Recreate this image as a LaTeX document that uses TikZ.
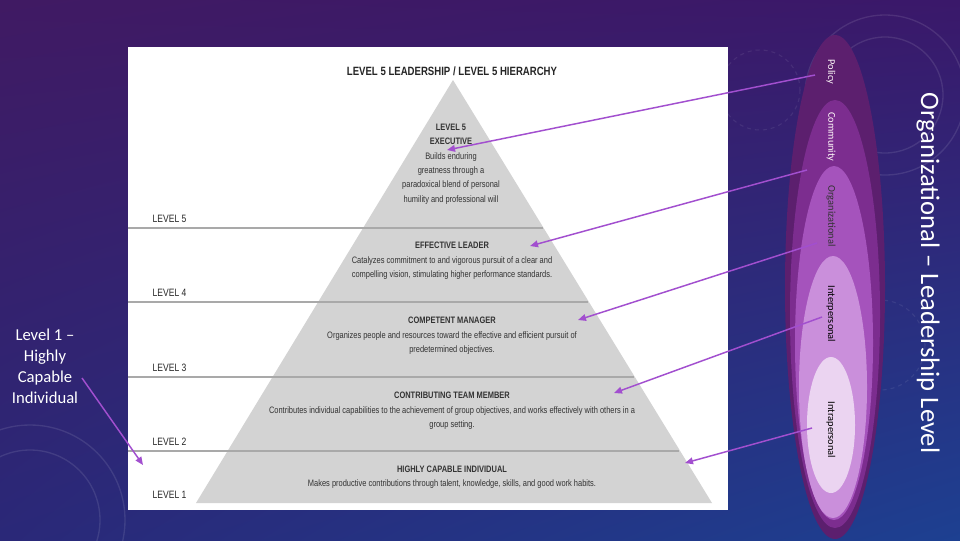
\documentclass[tikz,border=0pt]{standalone}
\usepackage{fontspec}
\setmainfont{Carlito}
\newfontfamily\narrowfont[FakeStretch=0.8]{Liberation Sans}
\newfontfamily\calibri{Carlito}
\usepackage{xcolor}
\usetikzlibrary{positioning,arrows.meta,shapes.geometric,shadings}
\definecolor{bgtl}{HTML}{401A63}
\definecolor{bgtr}{HTML}{3A186A}
\definecolor{bgbl}{HTML}{2A2878}
\definecolor{bgbr}{HTML}{1D4091}
\definecolor{pyrgrey}{HTML}{D3D3D3}
\definecolor{lvlgrey}{HTML}{A9A9A9}
\definecolor{policyc}{HTML}{5C1F6E}
\definecolor{communityc}{HTML}{7C2D8F}
\definecolor{orgc}{HTML}{A553BC}
\definecolor{interc}{HTML}{CA8FDB}
\definecolor{intrac}{HTML}{EBD4F1}
\definecolor{pointerc}{HTML}{A24FCF}

\begin{document}
\begin{tikzpicture}[
    x=0.75pt, y=-0.75pt,
    band/.style={align=center, text=black!80, font=\narrowfont\fontsize{7}{10.8}\selectfont},
    levellabel/.style={anchor=west, text=black!85, font=\narrowfont\fontsize{8}{9}\selectfont},
    levelline/.style={draw=lvlgrey, line width=1.5pt},
    ringlabel/.style={rotate=-90, font=\calibri\fontsize{7.8}{9}\selectfont},
    pointer/.style={-{Triangle[length=6pt,width=5pt]}, draw=pointerc, fill=pointerc, line width=1.1pt}
]
\useasboundingbox (0,0) rectangle (960,540);
\shade[upper left=bgtl, upper right=bgtr, lower left=bgbl, lower right=bgbr] (0,0) rectangle (960,540);
\draw[white, opacity=0.10, line width=1pt] (885,95) circle (58) (885,95) circle (80) (30,520) circle (70) (30,520) circle (95);
\draw[white, opacity=0.08, line width=0.8pt, dashed] (880,345) circle (45) (760,90) circle (40);

% pyramid panel
\fill[white] (128,47) rectangle (728,510);
\fill[pyrgrey] (453,80) -- (712,503) -- (196,503) -- cycle;
\foreach \y/\xr/\lab in {228/543/5, 302/588/4, 377/634/3, 451/679/2} {
  \draw[levelline] (128,\y) -- (\xr,\y);
  \node[levellabel] (lvl\lab) at (148,\y-9) {LEVEL \lab};
}
\node[levellabel] (lvl1) at (148,495) {LEVEL 1};
\node[font=\narrowfont\bfseries\fontsize{9}{10}\selectfont, text=black!85] (heading) at (452,71) {LEVEL 5 LEADERSHIP / LEVEL 5 HIERARCHY};

\node[band] (executive) at (451,164) {\textbf{LEVEL 5}\\\textbf{EXECUTIVE}\\Builds enduring\\greatness through a\\paradoxical blend of personal\\humility and professional will};
\node[band] (leader) at (452,261) {\textbf{EFFECTIVE LEADER}\\Catalyzes commitment to and vigorous pursuit of a clear and\\compelling vision, stimulating higher performance standards.};
\node[band] (manager) at (452,336) {\textbf{COMPETENT MANAGER}\\Organizes people and resources toward the effective and efficient pursuit of\\predetermined objectives.};
\node[band] (member) at (452,411) {\textbf{CONTRIBUTING TEAM MEMBER}\\Contributes individual capabilities to the achievement of group objectives, and works effectively with others in a\\group setting.};
\node[band] (individual) at (452,477) {\textbf{HIGHLY CAPABLE INDIVIDUAL}\\Makes productive contributions through talent, knowledge, skills, and good work habits.};

% nested rings
\fill[policyc] (835,287) ellipse [x radius=50, y radius=252];
\fill[communityc] (835,314) ellipse [x radius=45, y radius=214];
\fill[orgc] (834,343) ellipse [x radius=39, y radius=177];
\fill[interc] (833,387) ellipse [x radius=34, y radius=131];
\fill[intrac] (831,425) ellipse [x radius=24, y radius=68];
\node[ringlabel, text=white!90!pink] (policy) at (831,72) {Policy};
\node[ringlabel, text=white!90!pink] (community) at (831,137) {Community};
\node[ringlabel, text=black!80] (organizational) at (831,216) {Organizational};
\node[ringlabel, text=black] (interpersonal) at (831,314) {Interpersonal};
\node[ringlabel, text=black] (intrapersonal) at (831,430) {Intrapersonal};

\node[rotate=-90, text=white, font=\calibri\fontsize{20}{24}\selectfont] (title) at (928,273) {Organizational – Leadership Level};
\node[align=center, text=white, font=\calibri\fontsize{12.5}{15.8}\selectfont] (levelone) at (45,366) {Level 1 –\\Highly\\Capable\\Individual};

\coordinate (fromPolicy) at (815,75);
\coordinate (fromCommunity) at (807,170);
\coordinate (fromOrg) at (817,243);
\coordinate (fromInter) at (822,317);
\coordinate (fromIntra) at (812,428);
\coordinate (fromLevelone) at (82,378);
\coordinate (toExecutive) at (447,150);
\coordinate (toLeader) at (530,246);
\coordinate (toManager) at (578,320);
\coordinate (toMember) at (614,393);
\coordinate (toIndividual) at (685,463);
\coordinate (toLevelone) at (143,465);

\draw[pointer] (fromPolicy) -- (toExecutive);
\draw[pointer] (fromCommunity) -- (toLeader);
\draw[pointer] (fromOrg) -- (toManager);
\draw[pointer] (fromInter) -- (toMember);
\draw[pointer] (fromIntra) -- (toIndividual);
\draw[pointer] (fromLevelone) -- (toLevelone);
\end{tikzpicture}
\end{document}
